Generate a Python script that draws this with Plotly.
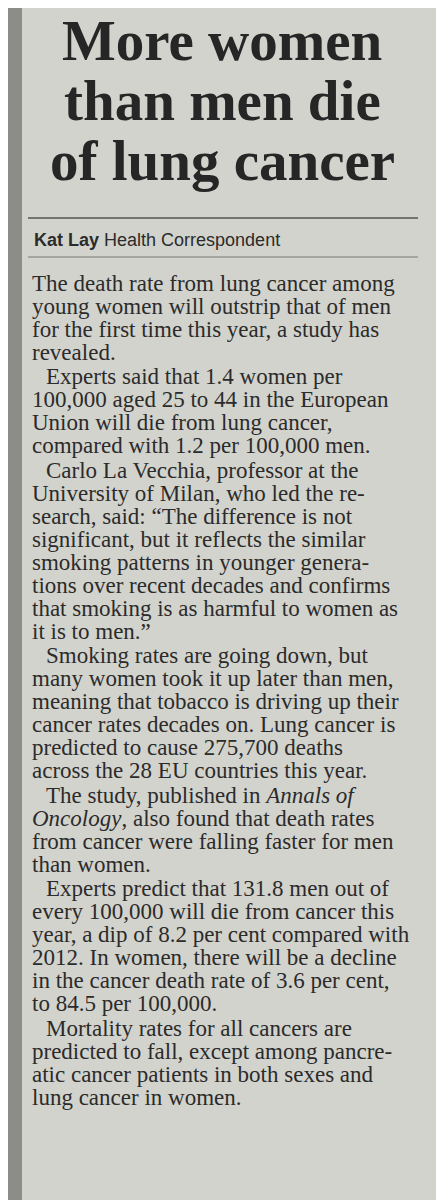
import plotly.graph_objects as go

headline = ["More women", "than men die", "of lung cancer"]
byline_name = "Kat Lay"
byline_role = "Health Correspondent"

# paragraphs of the article, line by line as printed
paragraphs = [
    ["The death rate from lung cancer among",
     "young women will outstrip that of men",
     "for the first time this year, a study has",
     "revealed."],
    ["Experts said that 1.4 women per",
     "100,000 aged 25 to 44 in the European",
     "Union will die from lung cancer,",
     "compared with 1.2 per 100,000 men."],
    ["Carlo La Vecchia, professor at the",
     "University of Milan, who led the re-",
     "search, said: “The difference is not",
     "significant, but it reflects the similar",
     "smoking patterns in younger genera-",
     "tions over recent decades and confirms",
     "that smoking is as harmful to women as",
     "it is to men.”"],
    ["Smoking rates are going down, but",
     "many women took it up later than men,",
     "meaning that tobacco is driving up their",
     "cancer rates decades on. Lung cancer is",
     "predicted to cause 275,700 deaths",
     "across the 28 EU countries this year."],
    ["The study, published in <i>Annals of</i>",
     "<i>Oncology</i>, also found that death rates",
     "from cancer were falling faster for men",
     "than women."],
    ["Experts predict that 131.8 men out of",
     "every 100,000 will die from cancer this",
     "year, a dip of 8.2 per cent compared with",
     "2012. In women, there will be a decline",
     "in the cancer death rate of 3.6 per cent,",
     "to 84.5 per 100,000."],
    ["Mortality rates for all cancers are",
     "predicted to fall, except among pancre-",
     "atic cancer patients in both sexes and",
     "lung cancer in women."],
]

ink = "#2b2b2b"
fig = go.Figure()
ann = []

# the page sits 8px in from the window corner, so work in shifted coordinates
off = 8

for i, line in enumerate(headline):
    ann.append(dict(x=222 - off, y=40 + i * 60 - off, text=f"<b>{line}</b>", showarrow=False,
                    font=dict(family="Liberation Serif", size=57, color="#262626"),
                    xanchor="center", yanchor="middle"))

ann.append(dict(x=32 - off, y=240 - off, text=f"<b>{byline_name}</b> {byline_role}", showarrow=False,
                font=dict(family="Liberation Sans", size=18, color=ink),
                xanchor="left", yanchor="middle"))

y = 283 - off
for k, p in enumerate(paragraphs):
    for j, line in enumerate(p):
        ann.append(dict(x=(44 if j == 0 and k > 0 else 30) - off, y=y, text=line,
                        showarrow=False, xanchor="left", yanchor="middle",
                        font=dict(family="Liberation Serif", size=23, color=ink)))
        y += 23.0
    y += 1.5

shapes = [
    dict(type="rect", x0=-10, x1=22 - off, y0=-10, y1=1210, fillcolor="#8c8c88", line_width=0, layer="below"),
    dict(type="line", x0=28 - off, x1=418 - off, y0=218 - off, y1=218 - off, line=dict(color="#555", width=1.5)),
    dict(type="line", x0=28 - off, x1=418 - off, y0=257 - off, y1=257 - off, line=dict(color="#777", width=1)),
]

fig.update_layout(
    width=444, height=1200, margin=dict(l=0, r=0, t=0, b=0),
    paper_bgcolor="#d3d3cd", plot_bgcolor="#d3d3cd",
    xaxis=dict(range=[0, 444], visible=False, fixedrange=True),
    yaxis=dict(range=[1200, 0], visible=False, fixedrange=True),
    annotations=ann, shapes=shapes, showlegend=False,
)
fig.write_html("out.html")
